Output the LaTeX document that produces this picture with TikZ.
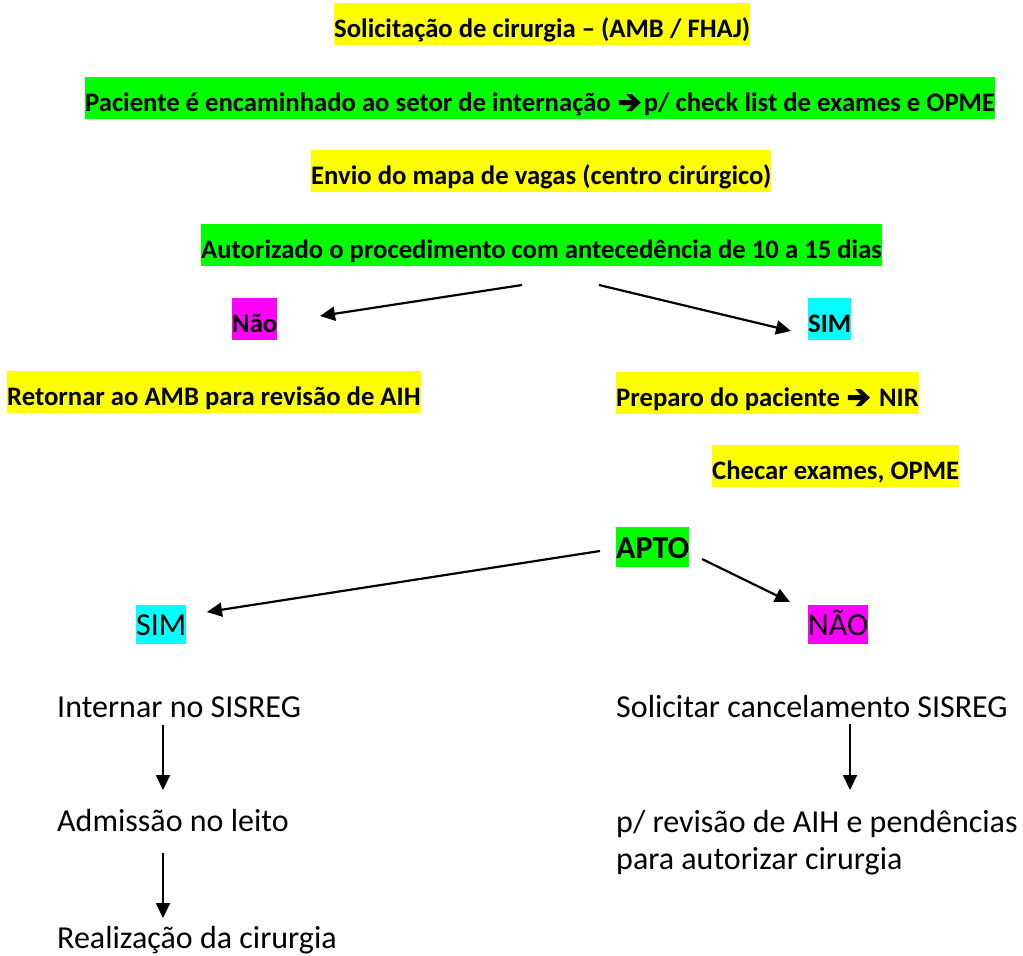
\documentclass[tikz,border=0pt]{standalone}
\usepackage{fontspec}
\setmainfont{Carlito}
\usetikzlibrary{arrows.meta}
\definecolor{hlyellow}{HTML}{FFFF00}
\definecolor{hlgreen}{HTML}{00FF00}
\definecolor{hlmagenta}{HTML}{FF00FF}
\definecolor{hlcyan}{HTML}{00FFFF}
\newcommand{\warrow}{\hspace{2pt}\tikz[baseline=0pt,x=1pt,y=1pt]{\fill[black] (0,6.2) -- (13,6.2) -- (7.5,0.2) -- (13,0.2) -- (22,8.6) -- (13,17) -- (7.5,17) -- (13,11) -- (0,11) -- cycle;}\hspace{3pt}}
\begin{document}
\begin{tikzpicture}[x=1pt,y=-1pt,
  hlbox/.style={inner sep=0pt, anchor=north west,
    font=\fontsize{26.7}{32}\selectfont\bfseries, text height=34pt, text depth=8pt},
  bigbold/.style={inner sep=0pt, anchor=north west,
    font=\fontsize{32}{39}\selectfont\bfseries, text height=31pt, text depth=9pt},
  bigbox/.style={inner sep=0pt, anchor=north west,
    font=\fontsize{32}{39}\selectfont, text height=30pt, text depth=9pt},
  plain/.style={inner sep=0pt, anchor=base west, font=\fontsize{32}{39}\selectfont},
  arr/.style={-{Triangle[length=15pt,width=14pt]}, line width=2.2pt}]
\useasboundingbox (0,0) rectangle (1023,956);

\node[hlbox, fill=hlyellow] (sol) at (334,3) {Solicitação de cirurgia – (AMB / FHAJ)};
\node[hlbox, fill=hlgreen] (pac) at (85,77) {Paciente é encaminhado ao setor de internação \warrow p/ check list de exames e OPME};
\node[hlbox, fill=hlyellow] (env) at (311,150) {Envio do mapa de vagas (centro cirúrgico)};
\node[hlbox, fill=hlgreen] (aut) at (201,224) {Autorizado o procedimento com antecedência de 10 a 15 dias};
\node[hlbox, fill=hlmagenta] (nao1) at (232,298) {Não};
\node[hlbox, fill=hlcyan] (sim1) at (808,298) {SIM};
\node[hlbox, fill=hlyellow] (ret) at (7,371) {Retornar ao AMB para revisão de AIH};
\node[hlbox, fill=hlyellow] (prep) at (616,372) {Preparo do paciente \warrow{} NIR};
\node[hlbox, fill=hlyellow] (chk) at (712,445) {Checar exames, OPME};
\node[bigbold, fill=hlgreen] (apto) at (616,527) {APTO};
\node[bigbox, fill=hlcyan] (sim2) at (136,605) {SIM};
\node[bigbox, fill=hlmagenta] (nao2) at (808,605) {NÃO};

\node[plain] (int) at (57,717) {Internar no SISREG};
\node[plain] (adm) at (57,831) {Admissão no leito};
\node[plain] (rea) at (57,948) {Realização da cirurgia};
\node[plain] (canc) at (616,717) {Solicitar cancelamento SISREG};
\node[plain] (rev1) at (616,832) {p/ revisão de AIH e pendências};
\node[plain] (rev2) at (616,869) {para autorizar cirurgia};

\coordinate (a1s) at (522,285); \coordinate (a1e) at (320,316);
\coordinate (a2s) at (599,285); \coordinate (a2e) at (791,331);
\coordinate (a3s) at (600,551); \coordinate (a3e) at (207,612);
\coordinate (a4s) at (702,559); \coordinate (a4e) at (790,602);
\coordinate (a5s) at (163,725); \coordinate (a5e) at (163,790);
\coordinate (a6s) at (163,853); \coordinate (a6e) at (163,918);
\coordinate (a7s) at (850,724); \coordinate (a7e) at (850,790);

\draw[arr] (a1s) -- (a1e);
\draw[arr] (a2s) -- (a2e);
\draw[arr] (a3s) -- (a3e);
\draw[arr] (a4s) -- (a4e);
\draw[arr] (a5s) -- (a5e);
\draw[arr] (a6s) -- (a6e);
\draw[arr] (a7s) -- (a7e);
\end{tikzpicture}
\end{document}
